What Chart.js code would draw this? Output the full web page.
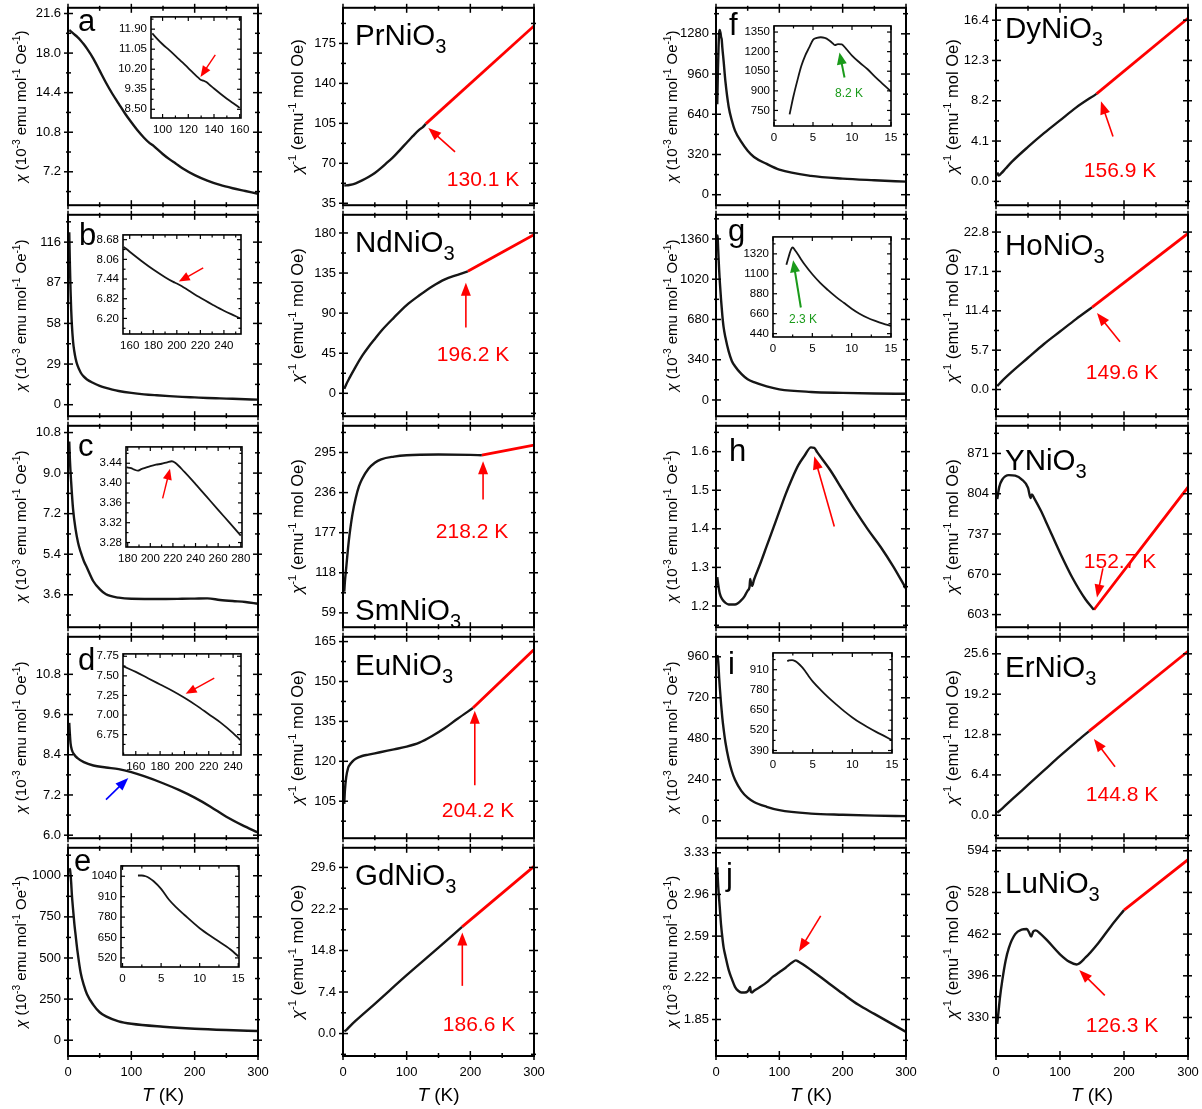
<!DOCTYPE html>
<html><head><meta charset="utf-8">
<script src="https://cdn.jsdelivr.net/npm/chart.js@4.4.1/dist/chart.umd.min.js"></script>
<style>
html,body{margin:0;padding:0;background:#fff;}
#wrap{position:relative;width:1202px;height:1109px;overflow:hidden;background:#fff;}
canvas{position:absolute;}
</style></head><body><div id="wrap"></div>
<script>
// ---------------- DATA ----------------
const xTicks = ["0","100","200","300"];
// a : PrNiO3 chi
const aTicks = ["7.2","10.8","14.4","18.0","21.6"];
const aT   = [2,5,10,15,20,25,30,40,50,60,70,80,90,100,110,120,128,131,134,140,150,160,170,180,200,220,240,260,280,300];
const aChi = [20.1,19.95,19.7,19.45,19.15,18.8,18.4,17.5,16.4,15.3,14.3,13.4,12.5,11.7,10.95,10.3,9.85,9.72,9.62,9.3,8.8,8.35,7.95,7.55,6.9,6.4,6.0,5.7,5.45,5.2];
const aInXTicks = ["100","120","140","160"];
const aInYTicks = ["8.50","9.35","10.20","11.05","11.90"];
const aInT   = [92,96,100,105,110,115,120,125,128,130,132,134,137,140,145,150,155,160];
const aInChi = [11.72,11.48,11.26,11.02,10.77,10.51,10.25,9.98,9.83,9.74,9.71,9.66,9.52,9.38,9.16,8.95,8.76,8.56];
// PrNiO3 inverse
const prTicks = ["35","70","105","140","175"];
const prT   = [2,10,20,30,40,50,60,70,80,90,100,110,120,125,130];
const prInv = [50.5,51,52.5,55,58,61.5,66,71,76,82,88,94,99.5,101.5,104.5];
const prFitT = [130,300];
const prFit  = [104.5,190.3];
// b : NdNiO3 chi
const bTicks = ["0","29","58","87","116"];
const bT   = [2,3,4,5,6,8,10,12,15,20,25,30,40,50,60,70,80,100,120,140,160,180,200,220,240,260,280,300];
const bChi = [123,100,82,68,58,45,38,33,28,23,20,18,15.5,13.5,12,10.8,9.8,8.4,7.4,6.7,6.1,5.6,5.2,4.8,4.5,4.2,3.9,3.6];
const bInXTicks = ["160","180","200","220","240"];
const bInYTicks = ["6.20","6.82","7.44","8.06","8.68"];
const bInT   = [155,160,170,180,190,197,200,204,210,220,230,240,250,254];
const bInChi = [8.45,8.30,8.01,7.74,7.50,7.35,7.30,7.22,7.08,6.85,6.64,6.44,6.27,6.20];
// NdNiO3 inverse
const ndTicks = ["0","45","90","135","180"];
const ndT   = [2,5,10,20,30,40,50,60,80,100,120,140,160,180,196];
const ndInv = [5,10,17,30,42,52,61,70,85,99,110,120,128,133,137];
const ndFitT = [196,300];
const ndFit  = [137,178];
// c : SmNiO3 chi
const cTicks = ["3.6","5.4","7.2","9.0","10.8"];
const cT   = [2,3,5,8,12,16,20,25,30,40,50,60,80,100,150,180,200,220,240,260,280,300];
const cChi = [10.4,9.6,8.6,7.4,6.5,5.9,5.5,5.1,4.8,4.2,3.85,3.62,3.47,3.42,3.41,3.42,3.43,3.44,3.37,3.32,3.28,3.2];
const cInXTicks = ["180","200","220","240","260","280"];
const cInYTicks = ["3.28","3.32","3.36","3.40","3.44"];
const cInT   = [179,183,186,189,192,196,200,205,210,215,219,222,230,240,250,260,270,280];
const cInChi = [3.432,3.430,3.427,3.425,3.428,3.431,3.434,3.437,3.439,3.442,3.444,3.441,3.423,3.398,3.372,3.346,3.320,3.294];
// SmNiO3 inverse
const smTicks = ["59","118","177","236","295"];
const smT   = [2,3,5,8,10,15,20,25,30,40,50,60,80,100,150,200,218];
const smInv = [90,105,125,155,172,205,228,245,256,271,280,285,289,291,292,291.5,291];
const smFitT = [218,300];
const smFit  = [291,306];
// d : EuNiO3 chi
const dTicks = ["6.0","7.2","8.4","9.6","10.8"];
const dT   = [2,3,4,6,10,15,25,40,60,80,100,120,150,175,200,225,250,275,300];
const dChi = [9.35,9.0,8.75,8.55,8.4,8.3,8.18,8.08,8.02,7.97,7.88,7.76,7.55,7.35,7.12,6.85,6.55,6.3,6.08];
const dInXTicks = ["160","180","200","220","240"];
const dInYTicks = ["6.75","7.00","7.25","7.50","7.75"];
const dInT   = [150,160,170,180,190,200,210,220,230,240,246];
const dInChi = [7.62,7.55,7.47,7.39,7.31,7.22,7.12,7.01,6.90,6.77,6.68];
// EuNiO3 inverse
const euTicks = ["105","120","135","150","165"];
const euT   = [2,3,5,8,10,15,20,30,40,50,60,80,100,120,140,160,180,204];
const euInv = [104,109,114,117.5,118.5,120,121,122,122.5,123,123.5,124.5,125.5,127,129.5,132.5,136,140];
const euFitT = [204,300];
const euFit  = [140,162];
// e : GdNiO3 chi
const eTicks = ["0","250","500","750","1000"];
const eT   = [2,3,4,5,6,8,10,12,15,20,25,30,40,50,60,80,100,150,200,250,300];
const eChi = [1045,1040,1010,960,892,795,709,640,540,410,335,280,215,170,145,115,100,82,70,62,56];
const eInXTicks = ["0","5","10","15"];
const eInYTicks = ["520","650","780","910","1040"];
const eInT   = [2,2.5,3,3.5,4,5,6,7,8,10,12,14,15];
const eInChi = [1045,1045,1040,1028,1010,960,892,840,795,709,640,573,530];
// GdNiO3 inverse
const gdTicks = ["0.0","7.4","14.8","22.2","29.6"];
const gdT   = [2,5,10,20,50,100,150,187];
const gdInv = [0.4,0.6,1.2,2.3,5.3,10.4,15.3,19.0];
const gdFitT = [187,300];
const gdFit  = [19.0,29.8];
// f : DyNiO3 chi
const fTicks = ["0","320","640","960","1280"];
const fT   = [2,3,4,5,6,7,8,9,10,12,15,20,25,30,40,50,60,80,100,150,200,250,300];
const fChi = [720,980,1170,1290,1310,1290,1255,1235,1170,1065,895,700,590,510,420,350,300,245,200,150,128,115,104];
const fInXTicks = ["0","5","10","15"];
const fInYTicks = ["750","900","1050","1200","1350"];
const fInT   = [2,2.5,3,3.5,4,4.5,5,5.5,6,6.5,7,7.5,7.8,8.2,8.7,9.2,10,11,12,13,14,15];
const fInChi = [720,860,980,1090,1170,1230,1290,1305,1310,1305,1290,1265,1250,1258,1255,1225,1170,1115,1065,1005,950,895];
// DyNiO3 inverse
const dyTicks = ["0.0","4.1","8.2","12.3","16.4"];
const dyT   = [2,4,8,15,25,50,75,100,125,157];
const dyInv = [0.9,0.6,0.8,1.3,2.0,3.5,4.9,6.2,7.5,8.9];
const dyFitT = [157,300];
const dyFit  = [8.9,16.6];
// g : HoNiO3 chi
const gTicks = ["0","340","680","1020","1360"];
const gT   = [2,2.5,3,4,5,6,8,10,12,15,20,25,30,40,50,60,80,100,150,200,250,300];
const gChi = [1290,1390,1330,1205,1095,1000,845,715,615,525,410,330,285,220,175,150,115,90,68,60,55,52];
const gInXTicks = ["0","5","10","15"];
const gInYTicks = ["440","660","880","1100","1320"];
const gInT   = [1.7,1.9,2.1,2.3,2.5,2.8,3.2,3.6,4,5,6,7,8,9,10,11,12,13,14,15];
const gInChi = [1200,1260,1320,1370,1390,1360,1310,1255,1205,1095,1000,920,845,780,715,660,615,580,550,525];
// HoNiO3 inverse
const hoTicks = ["0.0","5.7","11.4","17.1","22.8"];
const hoT   = [2,10,25,50,75,100,125,150];
const hoInv = [0.5,1.3,2.6,4.6,6.6,8.4,10.2,11.9];
const hoFitT = [150,300];
const hoFit  = [11.9,22.6];
// h : YNiO3 chi
const hTicks = ["1.2","1.3","1.4","1.5","1.6"];
const hT   = [2,4,6,10,15,20,30,40,45,50,53,54,55,57,60,70,80,90,100,110,120,130,140,150,155,160,180,200,220,240,260,280,300];
const hChi = [1.275,1.25,1.232,1.217,1.208,1.204,1.204,1.215,1.225,1.24,1.25,1.27,1.262,1.252,1.268,1.31,1.355,1.40,1.445,1.49,1.53,1.565,1.59,1.611,1.61,1.598,1.553,1.50,1.447,1.398,1.353,1.302,1.245];
// YNiO3 inverse
const yTicksInv = ["603","670","737","804","871"];
const yT   = [2,5,10,20,30,40,50,54,56,60,70,80,100,120,140,153];
const yInv = [795,815,828,835,834,828,814,797,803,796,776,753,706,663,628,611];
const yFitT = [153,300];
const yFit  = [611,815];
// i : ErNiO3 chi
const iTicks = ["0","240","480","720","960"];
const iT   = [2,3,4,5,6,8,10,12,15,20,25,30,40,50,60,80,100,150,200,250,300];
const iChi = [970,950,905,835,780,685,603,538,457,360,290,240,175,135,110,82,62,42,35,30,27];
const iInXTicks = ["0","5","10","15"];
const iInYTicks = ["390","520","650","780","910"];
const iInT   = [1.8,2,2.4,2.8,3.2,3.6,4,4.5,5,6,7,8,9,10,11,12,13,14,15];
const iInChi = [965,970,972,965,950,930,905,868,835,780,730,685,642,603,568,538,510,484,457];
// ErNiO3 inverse
const erTicks = ["0.0","6.4","12.8","19.2","25.6"];
const erT   = [2,10,25,50,75,100,125,145];
const erInv = [0.4,1.1,2.5,4.8,7.1,9.4,11.6,13.3];
const erFitT = [145,300];
const erFit  = [13.3,26.0];
// j : LuNiO3 chi
const jTicks = ["1.85","2.22","2.59","2.96","3.33"];
const jT   = [2,3,4,6,8,10,12,15,20,25,30,35,40,45,50,53,54,55,57,60,70,80,90,100,110,120,126,130,150,175,200,225,250,275,300];
const jChi = [3.2,3.08,2.99,2.84,2.69,2.58,2.49,2.41,2.29,2.21,2.14,2.105,2.09,2.09,2.1,2.13,2.14,2.095,2.09,2.105,2.14,2.18,2.23,2.27,2.31,2.355,2.375,2.365,2.29,2.185,2.08,1.98,1.9,1.82,1.74];
// LuNiO3 inverse
const luTicks = ["330","396","462","528","594"];
const luT   = [2,4,6,10,15,20,30,40,48,52,55,58,62,70,80,100,115,126,140,160,180,200];
const luInv = [320,340,360,390,420,440,462,469,470,464,458,466,468,462,452,430,418,414,425,448,475,500];
const luFitT = [200,300];
const luFit  = [500,580];

// ---------------- LAYOUT / STYLE ----------------
const FONT = '"Liberation Sans", Arial, Helvetica, sans-serif';
const COLS = [{l:68,r:258,pad:68,yo:47},{l:343,r:534,pad:58,yo:46},{l:716,r:906,pad:66,yo:44},{l:996,r:1188,pad:66,yo:44}];
const ROWS = [[5,212],[212,423],[423,634],[634,845],[845,1056]];
const TITLE_CHI = "~{χ} (10^{-3} emu mol^{-1} Oe^{-1})";
const TITLE_INV = "~{χ}^{-1} (emu^{-1} mol Oe)";
const RED = '#ff0000', GREEN = '#1a9a1a', BLUE = '#0000ff';
const wrap = document.getElementById('wrap');

function parseRich(s){
  const segs=[]; const re=/([\^_~])\{([^}]*)\}/g; let last=0,m;
  while((m=re.exec(s))){ if(m.index>last) segs.push({t:s.slice(last,m.index)}); segs.push({t:m[2],sup:m[1]==='^',sub:m[1]==='_',it:m[1]==='~'}); last=re.lastIndex; }
  if(last<s.length) segs.push({t:s.slice(last)});
  return segs;
}
function drawRich(ctx,s,x,y,size,color,align,rot){
  const segs=parseRich(s);
  ctx.save(); ctx.translate(x,y); if(rot) ctx.rotate(rot);
  const parts=segs.map(g=>{const sz=(g.sup||g.sub)?size*0.68:size; const f=(g.it?'italic ':'')+sz.toFixed(1)+'px '+FONT; ctx.font=f; return {g,f,w:ctx.measureText(g.t).width,dy:g.sup?-size*0.4:g.sub?size*0.28:0};});
  const tw=parts.reduce((a,p)=>a+p.w,0);
  let cx=align==='center'?-tw/2:align==='right'?-tw:0;
  ctx.fillStyle=color; ctx.textAlign='left'; ctx.textBaseline='alphabetic';
  for(const p of parts){ctx.font=p.f; ctx.fillText(p.g.t,cx,p.dy); cx+=p.w;}
  ctx.restore();
}
function arrow(ctx,x1,y1,x2,y2,color,lw,hl,hw){
  const ang=Math.atan2(y2-y1,x2-x1);
  ctx.save(); ctx.strokeStyle=color; ctx.fillStyle=color; ctx.lineWidth=lw;
  ctx.beginPath(); ctx.moveTo(x1,y1); ctx.lineTo(x2-Math.cos(ang)*hl*0.8,y2-Math.sin(ang)*hl*0.8); ctx.stroke();
  ctx.beginPath(); ctx.moveTo(x2,y2);
  ctx.lineTo(x2-Math.cos(ang)*hl+Math.sin(ang)*hw, y2-Math.sin(ang)*hl-Math.cos(ang)*hw);
  ctx.lineTo(x2-Math.cos(ang)*hl-Math.sin(ang)*hw, y2-Math.sin(ang)*hl+Math.cos(ang)*hw);
  ctx.closePath(); ctx.fill(); ctx.restore();
}
function minors(maj,lo,hi){
  const s=maj[1]-maj[0], out=[];
  for(let k=-1;k<maj.length;k++){const v=maj[0]+(k+0.5)*s; if(v>=lo-1e-9&&v<=hi+1e-9) out.push(v);}
  return out;
}

const deco={
  id:'deco',
  beforeDraw(chart){
    const o=chart.canvas._deco; if(!o||!o.bg) return;
    const a=chart.chartArea, ctx=chart.ctx;
    ctx.save(); ctx.fillStyle='#fff'; ctx.fillRect(a.left,a.top,a.right-a.left,a.bottom-a.top); ctx.restore();
  },
  afterDraw(chart){
    const o=chart.canvas._deco; if(!o) return;
    const ctx=chart.ctx, a=chart.chartArea, X=chart.scales.x, Y=chart.scales.y;
    ctx.save(); ctx.strokeStyle='#000'; ctx.lineCap='butt';
    const ln=(x1,y1,x2,y2)=>{ctx.beginPath();ctx.moveTo(x1,y1);ctx.lineTo(x2,y2);ctx.stroke();};
    const tk=(axis,vals,inn,out)=>{
      for(const v of vals){
        if(axis==='x'){const p=X.getPixelForValue(v); if(p<a.left-0.5||p>a.right+0.5) continue; ln(p,a.bottom+out,p,a.bottom-inn); ln(p,a.top-out,p,a.top+inn);}
        else {const p=Y.getPixelForValue(v); if(p<a.top-0.5||p>a.bottom+0.5) continue; ln(a.left-out,p,a.left+inn,p); ln(a.right+out,p,a.right-inn,p);}
      }
    };
    ctx.lineWidth=o.tickW;
    const xv=o.xt.map(Number), yv=o.yt.map(Number);
    tk('x',xv,o.mj[0],o.mj[1]); tk('x',minors(xv,X.min,X.max),o.mn[0],o.mn[1]);
    tk('y',yv,o.mj[0],o.mj[1]); tk('y',minors(yv,Y.min,Y.max),o.mn[0],o.mn[1]);
    ctx.lineWidth=o.frameW; ctx.strokeRect(a.left,a.top,a.right-a.left,a.bottom-a.top);
    for(const ar of (o.arrows||[])){
      arrow(ctx,X.getPixelForValue(ar[0]),Y.getPixelForValue(ar[1]),X.getPixelForValue(ar[2]),Y.getPixelForValue(ar[3]),ar[4]||RED,ar[5]||1.6,ar[6]||13,ar[7]||5);
    }
    for(const t of (o.texts||[])){
      drawRich(ctx,t[0],a.left+t[1],a.top+t[2],t[3],t[4]||'#000',t[5]||'left',0);
    }
    if(o.ytitle){ const ts=o.ytitle===TITLE_CHI?15:16.5; drawRich(ctx,o.ytitle,a.left-o.yo+0.35*ts,(a.top+a.bottom)/2,ts,'#000','center',-Math.PI/2); }
    if(o.xtitle){ drawRich(ctx,"~{T} (K)",(a.left+a.right)/2,a.bottom+45,19,'#000','center',0); }
    ctx.restore();
  }
};

function mk(box,o,lines){
  const W=box.r-box.l+box.pl+box.pr, H=box.b-box.t+box.pt+box.pb;
  const cv=document.createElement('canvas');
  cv.width=W; cv.height=H;
  Object.assign(cv.style,{left:(box.l-box.pl)+'px',top:(box.t-box.pt)+'px',width:W+'px',height:H+'px'});
  wrap.appendChild(cv);
  cv._deco=o;
  const xv=o.xt.map(Number), yv=o.yt.map(Number);
  const datasets=lines.map(L=>({
    data:L[0].map((t,i)=>({x:t,y:L[1][i]})),
    borderColor:L[2]==='r'?RED:'#161616', borderWidth:L[3]||2.4,
    pointRadius:0, fill:false, cubicInterpolationMode:'monotone'
  }));
  return new Chart(cv,{
    type:'line',
    data:{datasets},
    options:{
      responsive:false, animation:false, devicePixelRatio:1, events:[],
      layout:{padding:{left:0,right:box.pr,top:box.pt,bottom:0}},
      plugins:{legend:{display:false},tooltip:{enabled:false}},
      scales:{
        x:{type:'linear',min:o.xr[0],max:o.xr[1],grid:{display:false,drawTicks:false},border:{display:false},
          afterFit:s=>{s.height=box.pb;},
          afterBuildTicks:s=>{s.ticks=xv.map(v=>({value:v}));},
          ticks:{display:!!o.showX,autoSkip:false,maxRotation:0,padding:o.xpad,color:'#000',font:{family:FONT,size:o.fs},callback:(v,i)=>o.xt[i]}},
        y:{type:'linear',min:o.yr[0],max:o.yr[1],grid:{display:false,drawTicks:false},border:{display:false},
          afterFit:s=>{s.width=box.pl;},
          afterBuildTicks:s=>{s.ticks=yv.map(v=>({value:v}));},
          ticks:{autoSkip:false,padding:o.ypad,color:'#000',font:{family:FONT,size:o.fs},callback:(v,i)=>o.yt[i]}}
      }
    },
    plugins:[deco]
  });
}

function mainPanel(c,r,p){
  const C=COLS[c], R=ROWS[r];
  const box={l:C.l,r:C.r,t:R[0],b:R[1],pl:C.pad,pr:34,pt:12,pb:r===4?52:8};
  const texts=[];
  if(p.letter) texts.push([p.letter[0],p.letter[1],p.letter[2],31,'#000','left']);
  if(p.comp) texts.push([p.comp[0],p.comp[1],p.comp[2],29.5,'#000','left']);
  for(const t of (p.texts||[])) texts.push([t[0],t[1],t[2],21,RED,'center']);
  const o={xt:xTicks,yt:p.yt,xr:[0,300],yr:p.yr,showX:r===4,xtitle:r===4,ytitle:p.title,yo:C.yo,
    fs:13,xpad:9,ypad:7,tickW:1.5,frameW:2,mj:[5,4],mn:[3,2],arrows:p.arrows||[],texts};
  mk(box,o,p.lines);
}
function inset(p){
  const box={l:Math.round(p.box[0]),t:Math.round(p.box[1]),r:Math.round(p.box[2]),b:Math.round(p.box[3]),pl:38,pr:26,pt:8,pb:22};
  const texts=(p.texts||[]).map(t=>[t[0],t[1],t[2],12,GREEN,'center']);
  const o={xt:p.xt,yt:p.yt,xr:p.xr,yr:p.yr,showX:true,fs:11.5,xpad:5,ypad:4,tickW:1.2,frameW:1.6,mj:[4,0],mn:[2.5,0],arrows:p.arrows||[],texts,bg:true};
  mk(box,o,[[p.d[0],p.d[1],'k',1.8]]);
}

// ---------------- PANELS ----------------
mainPanel(0,0,{yt:aTicks,yr:[4.16,22.12],title:TITLE_CHI,lines:[[aT,aChi]],letter:['a',10,23.3]});
mainPanel(0,1,{yt:bTicks,yr:[-8.2,135.5],title:TITLE_CHI,lines:[[bT,bChi]],letter:['b',11,29.7]});
mainPanel(0,2,{yt:cTicks,yr:[2.16,11.1],title:TITLE_CHI,lines:[[cT,cChi]],letter:['c',10,30.3]});
mainPanel(0,3,{yt:dTicks,yr:[5.91,11.92],title:TITLE_CHI,lines:[[dT,dChi]],letter:['d',10,32.7],arrows:[[60,7.06,95.2,7.71,BLUE]]});
mainPanel(0,4,{yt:eTicks,yr:[-96,1170],title:TITLE_CHI,lines:[[eT,eChi]],letter:['e',6,23.3]});

mainPanel(1,0,{yt:prTicks,yr:[33.3,206.2],title:TITLE_INV,lines:[[prT,prInv],[prFitT,prFit,'r',2.8]],comp:['PrNiO_{3}',12,36.7],arrows:[[176,80,134,101]],texts:[['130.1 K',140,178]]});
mainPanel(1,1,{yt:ndTicks,yr:[-25.7,200.4],title:TITLE_INV,lines:[[ndT,ndInv],[ndFitT,ndFit,'r',2.8]],comp:['NdNiO_{3}',12,37],arrows:[[193,74,193,124]],texts:[['196.2 K',130,146]]});
mainPanel(1,2,{yt:smTicks,yr:[37.9,334.3],title:TITLE_INV,lines:[[smT,smInv],[smFitT,smFit,'r',2.8]],comp:['SmNiO_{3}',12,194],arrows:[[220,226,220,282]],texts:[['218.2 K',129,112]]});
mainPanel(1,3,{yt:euTicks,yr:[91.1,166.8],title:TITLE_INV,lines:[[euT,euInv],[euFitT,euFit,'r',2.8]],comp:['EuNiO_{3}',12,38],arrows:[[207,111,207,139]],texts:[['204.2 K',135,180]]});
mainPanel(1,4,{yt:gdTicks,yr:[-4.0,33.1],title:TITLE_INV,lines:[[gdT,gdInv],[gdFitT,gdFit,'r',2.8]],comp:['GdNiO_{3}',12,36.7],arrows:[[187.4,8.5,187.4,18.0]],texts:[['186.6 K',136,183.3]]});

mainPanel(2,0,{yt:fTicks,yr:[-83.5,1487],title:TITLE_CHI,lines:[[fT,fChi]],letter:['f',13,26.7]});
mainPanel(2,1,{yt:gTicks,yr:[-137,1564],title:TITLE_CHI,lines:[[gT,gChi]],letter:['g',12,26.3]});
mainPanel(2,2,{yt:hTicks,yr:[1.145,1.667],title:TITLE_CHI,lines:[[hT,hChi]],letter:['h',13,35.3],arrows:[[186.8,1.406,155.2,1.588]]});
mainPanel(2,3,{yt:iTicks,yr:[-102,1077],title:TITLE_CHI,lines:[[iT,iChi]],letter:['i',12,37]});
mainPanel(2,4,{yt:jTicks,yr:[1.526,3.374],title:TITLE_CHI,lines:[[jT,jChi]],letter:['j',10,36.7],arrows:[[165.3,2.77,131,2.454]]});

mainPanel(3,0,{yt:dyTicks,yr:[-2.43,17.66],title:TITLE_INV,lines:[[dyT,dyInv],[dyFitT,dyFit,'r',2.8]],comp:['DyNiO_{3}',9,30],arrows:[[182.8,4.55,164,8.14]],texts:[['156.9 K',124,169]]});
mainPanel(3,1,{yt:hoTicks,yr:[-3.86,25.3],title:TITLE_INV,lines:[[hoT,hoInv],[hoFitT,hoFit,'r',2.8]],comp:['HoNiO_{3}',9,40],arrows:[[193.75,6.93,157.8,11.07]],texts:[['149.6 K',126,164]]});
mainPanel(3,2,{yt:yTicksInv,yr:[582,917],title:TITLE_INV,lines:[[yT,yInv],[yFitT,yFit,'r',2.8]],comp:['YNiO_{3}',9,44],arrows:[[167,680,157.8,631.3]],texts:[['152.7 K',124,142]]});
mainPanel(3,3,{yt:erTicks,yr:[-3.64,28.3],title:TITLE_INV,lines:[[erT,erInv],[erFitT,erFit,'r',2.8]],comp:['ErNiO_{3}',9,40],arrows:[[186,7.7,153,12.1]],texts:[['144.8 K',126,164]]});
mainPanel(3,4,{yt:luTicks,yr:[269,598.7],title:TITLE_INV,lines:[[luT,luInv],[luFitT,luFit,'r',2.8]],comp:['LuNiO_{3}',9,45],arrows:[[170,365,130,405]],texts:[['126.3 K',126,184]]});

// insets
inset({box:[151,14,241,118],xr:[91,161],yr:[8.13,12.42],xt:aInXTicks,yt:aInYTicks,d:[aInT,aInChi],arrows:[[141,10.81,129.5,9.87,RED,1.4,11,4.5]]});
inset({box:[123,232,241,334],xr:[154.3,254.5],yr:[5.71,8.83],xt:bInXTicks,yt:bInYTicks,d:[bInT,bInChi],arrows:[[222.4,7.79,201.7,7.36,RED,1.4,11,4.5]]});
inset({box:[126,444,242,547],xr:[178.5,281.1],yr:[3.271,3.473],xt:cInXTicks,yt:cInYTicks,d:[cInT,cInChi],arrows:[[210.9,3.369,217.4,3.429,RED,1.4,11,4.5]]});
inset({box:[123,651,241,755],xr:[149.5,246.5],yr:[6.49,7.78],xt:dInXTicks,yt:dInYTicks,d:[dInT,dInChi],arrows:[[224.5,7.47,201,7.27,RED,1.4,11,4.5]]});
inset({box:[121,863,239,967],xr:[-0.2,15.1],yr:[462,1106],xt:eInXTicks,yt:eInYTicks,d:[eInT,eInChi]});
inset({box:[774,23,891,126],xr:[0,15],yr:[631,1397],xt:fInXTicks,yt:fInYTicks,d:[fInT,fInChi],arrows:[[9.04,1002,8.4,1194,GREEN,2,12,5]],texts:[['8.2 K',75,71.3]]});
inset({box:[773,234,891,337],xr:[0,15],yr:[403,1507],xt:gInXTicks,yt:gInYTicks,d:[gInT,gInChi],arrows:[[3.54,728,2.56,1249,GREEN,2,12,5]],texts:[['2.3 K',30,85.7]]});
inset({box:[773,650,892,753],xr:[0,15],yr:[374,1018],xt:iInXTicks,yt:iInYTicks,d:[iInT,iInChi]});
</script></body></html>
